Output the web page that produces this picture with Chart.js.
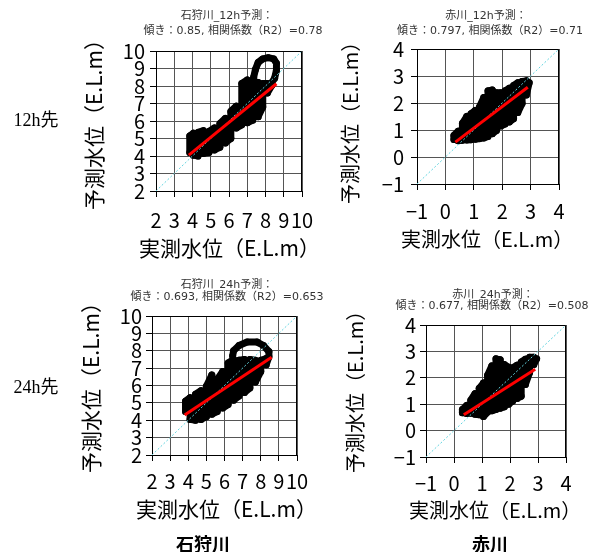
<!DOCTYPE html>
<html>
<head>
<meta charset="utf-8">
<script src="https://cdn.jsdelivr.net/npm/chart.js@4/dist/chart.umd.min.js"></script>
<style>
  html, body { margin: 0; padding: 0; background: #fff; }
  #fig { position: relative; width: 592px; height: 552px; overflow: hidden;
         font-family: "Noto Sans CJK JP", "Noto Sans", sans-serif; color: #000; }
  canvas.panel { position: absolute; left: 0; top: 0; }
  .clip { position: absolute; overflow: hidden; height: 40px; }
  .ttl { position: absolute; white-space: nowrap; font-size: 11px; line-height: 14px;
         font-family: "DejaVu Sans", "Noto Sans CJK JP", sans-serif;
         color: #333; transform: translate(-50%, -50%); }
  .lbl { position: absolute; white-space: nowrap; transform: translate(-50%, -50%); }
  .row { font-family: "Liberation Serif", "Noto Sans CJK JP", serif; font-size: 18px; }
  .col { font-size: 18px; font-weight: bold; }
  .axt { position: absolute; white-space: nowrap; line-height: 26px; height: 26px; }
  .axt.v { transform-origin: 0 50%; transform: rotate(-90deg); }
</style>
</head>
<body>
<div id="fig"></div>
<script>
// ---- data -------------------------------------------------------------
// Observed (x) vs predicted (y) water level, E.L.m, traced along each trajectory.
const ishikari12 = [
  [3.85,4.2],[3.85,5.15],[4.05,5.3],[4.05,4.05],[4.3,4.0],[4.3,5.35],[4.6,5.45],[4.6,4.15],
  [4.9,4.2],[4.9,5.4],[5.2,5.6],[5.2,4.35],[5.5,4.5],[5.5,5.85],[5.8,6.15],[5.8,4.75],
  [6.1,5.0],[6.1,6.55],[6.4,6.85],[6.4,5.6],[6.7,5.78],[6.7,8.15],[7.0,8.35],[7.0,5.9],
  [7.3,6.05],[7.3,8.3],[7.6,8.2],[7.6,6.25],[7.85,6.8],[7.85,8.15],[8.1,8.15],[8.1,7.6],
  [8.35,8.05],[8.35,8.2],[8.5,8.45],[8.6,8.9],[8.6,9.3],[8.45,9.55],[8.15,9.62],[7.85,9.55],
  [7.6,9.35],[7.45,8.95],[7.35,8.5]
];
const akagawa12 = [
  [0.3,0.65],[0.3,0.8],[0.45,0.95],[0.45,0.6],[0.6,0.62],[0.6,1.25],[0.75,1.5],[0.75,0.63],
  [0.9,0.64],[0.9,1.6],[1.05,1.72],[1.05,0.66],[1.2,0.68],[1.2,1.85],[1.35,2.2],[1.35,0.7],
  [1.5,0.76],[1.5,2.45],[1.65,2.48],[1.65,0.86],[1.8,0.98],[1.8,2.38],[1.95,2.38],[1.95,1.15],
  [2.1,1.22],[2.1,2.45],[2.25,2.55],[2.25,1.3],[2.4,1.42],[2.4,2.65],[2.55,2.75],[2.55,1.65],
  [2.7,1.98],[2.7,2.8],[2.85,2.82],[2.85,2.3],[2.95,2.75]
];
const ishikari24 = [
  [3.85,4.5],[3.85,5.1],[4.1,5.3],[4.1,4.05],[4.4,4.0],[4.4,5.5],[4.7,5.7],[4.7,4.05],
  [5.0,4.2],[5.0,5.95],[5.3,6.6],[5.3,4.35],[5.6,4.5],[5.6,6.35],[5.9,6.8],[5.9,4.7],
  [6.2,4.9],[6.2,7.3],[6.5,7.5],[6.5,5.15],[6.8,5.4],[6.8,7.45],[7.1,7.5],[7.1,5.6],
  [7.4,5.85],[7.4,7.5],[7.7,7.45],[7.7,6.2],[8.0,6.8],[8.0,7.45],[8.3,7.55],[8.3,7.2],
  [8.45,7.65],[8.45,7.95],[8.15,8.3],[7.8,8.5],[7.25,8.5],[6.8,8.3],[6.5,8.0],[6.45,7.7]
];
const akagawa24 = [
  [0.3,0.68],[0.3,0.8],[0.45,0.95],[0.45,0.65],[0.6,0.66],[0.6,1.15],[0.75,1.4],[0.75,0.62],
  [0.9,0.6],[0.9,1.6],[1.05,1.8],[1.05,0.53],[1.2,0.7],[1.2,2.1],[1.35,2.45],[1.35,0.75],
  [1.5,0.8],[1.5,2.72],[1.65,2.68],[1.65,0.85],[1.8,0.9],[1.8,2.5],[1.95,2.4],[1.95,1.0],
  [2.1,1.12],[2.1,2.38],[2.25,2.48],[2.25,1.22],[2.4,1.3],[2.4,2.6],[2.55,2.7],[2.55,1.75],
  [2.7,2.2],[2.7,2.78],[2.85,2.78],[2.85,2.5],[2.95,2.72]
];

// Panel headings and regression statistics
const rivers      = ['石狩川', '赤川', '石狩川', '赤川'];
const horizons    = ['12h', '12h', '24h', '24h'];
const slopes      = [0.85, 0.797, 0.693, 0.677];
const intercepts  = [0.82, 0.27, 1.67, 0.36];
const r2          = [0.78, 0.71, 0.653, 0.508];
const fitRanges   = [[3.8, 8.6], [0.35, 2.9], [3.8, 8.6], [0.35, 2.9]];
const axisRanges  = [[2, 10], [-1, 4], [2, 10], [-1, 4]];
const series      = [ishikari12, akagawa12, ishikari24, akagawa24];
const rowLabels   = ['12h先', '24h先'];
const colLabels   = ['石狩川', '赤川'];
const xTitle = '実測水位（E.L.m）';
const yTitle = '予測水位（E.L.m）';

// ---- layout (page pixels) ---------------------------------------------
// L/R/T/B: plot area; xt: x-title left edge & centre line; yt: y-title centre x & start y
const FIG_W = 592, FIG_H = 552;
const TICK_FONT = 20;
const layout = [
  { L: 156, R: 302, T: 51,  B: 191, xPad: 11,  yPad: 5, xt: [139, 247], yt: [93, 210], af: 21,
    t1: [227, 16], t2: [233, 31], clip: [60, 329] },
  { L: 417, R: 559, T: 49,  B: 184, xPad: 9.7, yPad: 7, xt: [401, 239], yt: [350, 204], af: 20,
    t1: [486, 16], t2: [490, 31], clip: [330, 592] },
  { L: 152, R: 297, T: 316, B: 455, xPad: 8.7, yPad: 4, xt: [136, 508], yt: [90, 473], af: 21,
    t1: [227, 285], t2: [227, 297], clip: [60, 329] },
  { L: 426, R: 566, T: 325, B: 457, xPad: 8,   yPad: 4, xt: [409, 510], yt: [355, 473], af: 20,
    t1: [493, 295], t2: [492, 306], clip: [330, 592] }
];

const fig = document.getElementById('fig');
const fontFamily = '"Noto Sans CJK JP", "Noto Sans", sans-serif';
const fmtTick = v => (v < 0 ? '\u2212' + (-v) : String(v));

// top and right spines
const spines = {
  id: 'spines',
  afterDatasetsDraw(chart) {
    const { ctx, chartArea: a } = chart;
    ctx.save();
    ctx.strokeStyle = '#000';
    ctx.lineWidth = 1;
    ctx.beginPath();
    ctx.moveTo(Math.round(a.left) + 0.5, Math.round(a.top) + 0.5);
    ctx.lineTo(Math.round(a.right) - 0.5, Math.round(a.top) + 0.5);
    ctx.lineTo(Math.round(a.right) - 0.5, Math.round(a.bottom) + 0.5);
    ctx.stroke();
    ctx.restore();
  }
};

function addText(cls, text, x, y, parent) {
  const d = document.createElement('div');
  d.className = cls;
  d.textContent = text;
  d.style.left = x + 'px';
  d.style.top = y + 'px';
  (parent || fig).appendChild(d);
  return d;
}

series.forEach((pts, i) => {
  const g = layout[i];
  const [lo, hi] = axisRanges[i];
  const [f0, f1] = fitRanges[i];
  const s = slopes[i], b = intercepts[i];
  const yLeft = g.L - 60;
  const xBottom = g.B + 50;

  const cv = document.createElement('canvas');
  cv.className = 'panel';
  cv.width = FIG_W; cv.height = FIG_H;
  fig.appendChild(cv);

  const axis = (pad, fit) => ({
    type: 'linear', min: lo, max: hi,
    ticks: { stepSize: 1, autoSkip: false, maxRotation: 0, minRotation: 0, padding: pad,
             color: '#000', font: { family: fontFamily, size: TICK_FONT }, callback: fmtTick },
    grid: { color: '#555', tickColor: '#000', tickLength: 6, lineWidth: 1 },
    border: { color: '#000', width: 1 },
    title: { display: false },
    afterFit: fit
  });

  new Chart(cv, {
    type: 'scatter',
    data: {
      datasets: [
        { label: '回帰直線', data: [{ x: f0, y: s * f0 + b }, { x: f1, y: s * f1 + b }],
          showLine: true, borderColor: '#ff0000', borderWidth: 3, pointRadius: 0, order: 0 },
        { label: 'y=x', data: [{ x: lo, y: lo }, { x: hi, y: hi }],
          showLine: true, borderColor: '#62d4df', borderWidth: 1, borderDash: [2, 2],
          pointRadius: 0, order: 1 },
        { label: rivers[i] + '_' + horizons[i], data: pts.map(p => ({ x: p[0], y: p[1] })),
          showLine: true, borderColor: '#000', backgroundColor: '#000', borderWidth: 7,
          pointRadius: 3.5, pointBorderWidth: 0, borderJoinStyle: 'round', borderCapStyle: 'round',
          order: 2 }
      ]
    },
    options: {
      responsive: false, animation: false, events: [],
      layout: { padding: { left: yLeft, top: g.T, right: FIG_W - g.R, bottom: FIG_H - xBottom } },
      plugins: { legend: { display: false }, tooltip: { enabled: false } },
      scales: {
        x: axis(g.xPad, sc => { sc.height = xBottom - g.B; sc.paddingLeft = 0; sc.paddingRight = 0; }),
        y: axis(g.yPad, sc => { sc.width = g.L - yLeft; sc.paddingTop = 0; sc.paddingBottom = 0; })
      }
    },
    plugins: [spines]
  });

  // axis titles
  addText('axt', xTitle, g.xt[0], g.xt[1] - 13).style.fontSize = g.af + 'px';
  addText('axt v', yTitle, g.yt[0], g.yt[1] - 13).style.fontSize = g.af + 'px';

  // two-line panel heading, cut at the panel edge
  const clip = document.createElement('div');
  clip.className = 'clip';
  clip.style.left = g.clip[0] + 'px';
  clip.style.width = (g.clip[1] - g.clip[0]) + 'px';
  clip.style.top = (g.t1[1] - 16) + 'px';
  fig.appendChild(clip);
  addText('ttl', rivers[i] + '_' + horizons[i] + '予測：', g.t1[0] - g.clip[0], 16, clip);
  addText('ttl', '傾き：' + slopes[i] + ', 相関係数（R2）=' + r2[i],
          g.t2[0] - g.clip[0], 16 + g.t2[1] - g.t1[1], clip);
});

addText('lbl row', rowLabels[0], 36, 118);
addText('lbl row', rowLabels[1], 36, 385);
addText('lbl col', colLabels[0], 203, 543);
addText('lbl col', colLabels[1], 490, 543);
</script>
</body>
</html>
